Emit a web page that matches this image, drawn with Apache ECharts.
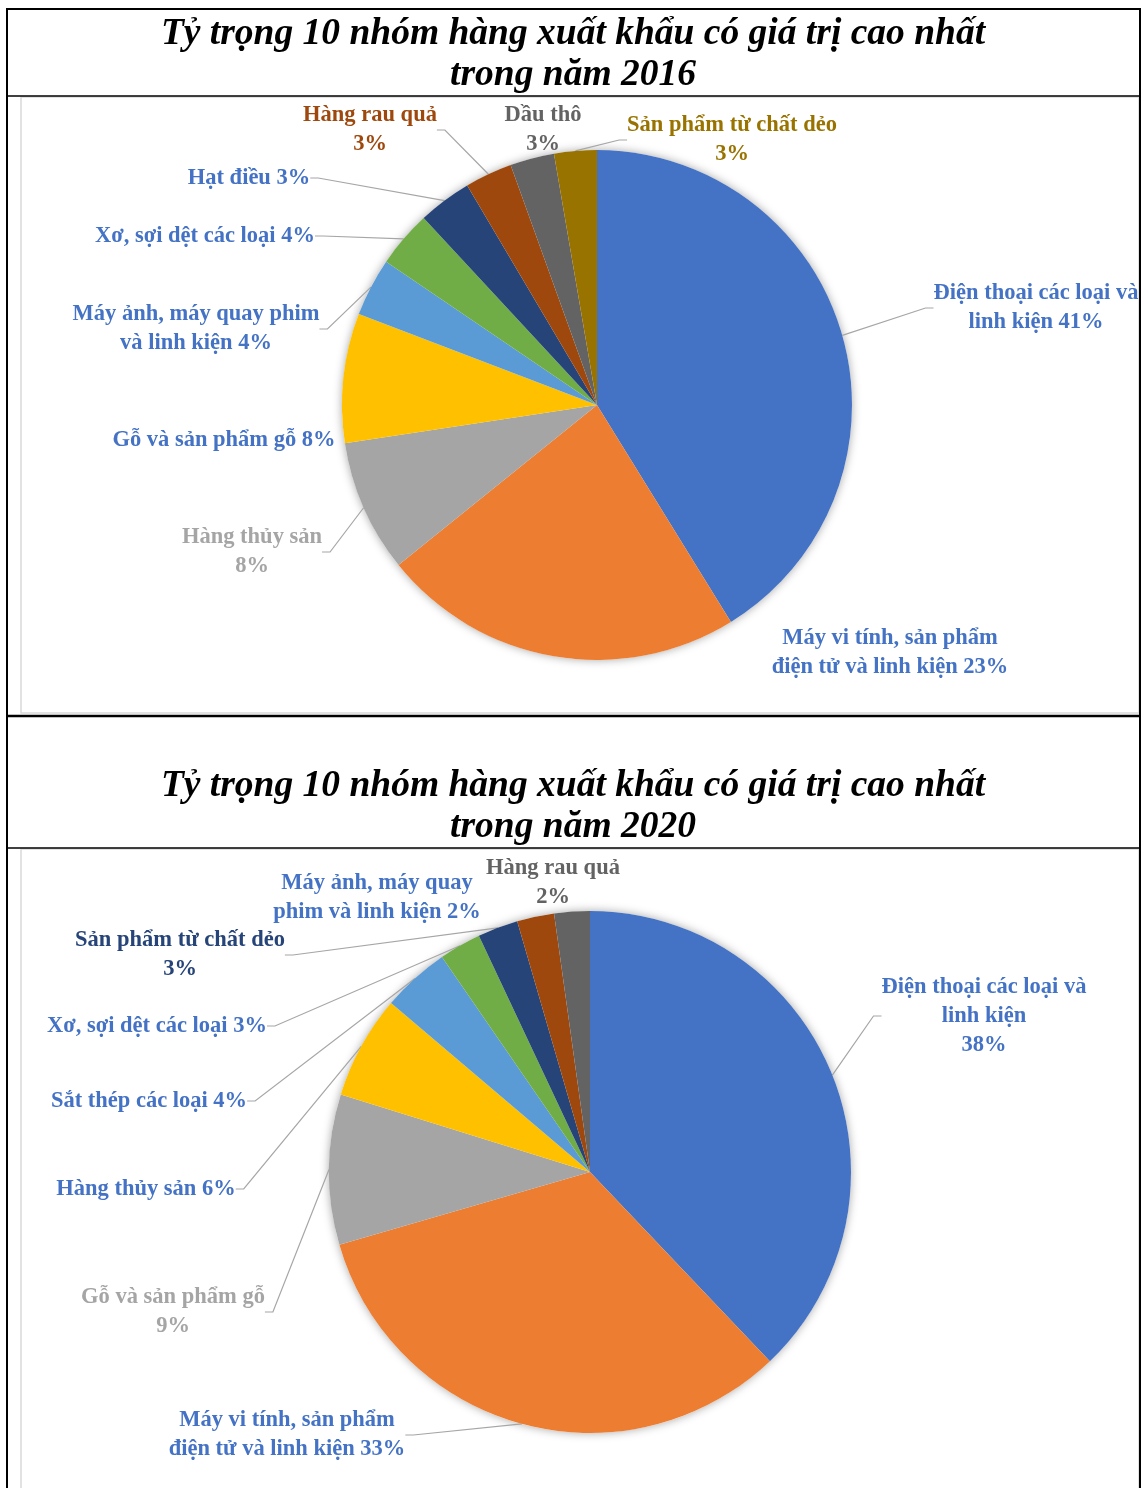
<!DOCTYPE html>
<html><head><meta charset="utf-8">
<script src="https://cdn.jsdelivr.net/npm/echarts@6/dist/echarts.min.js"></script>
<style>html,body{margin:0;padding:0;background:#fff}#c{width:1146px;height:1488px}</style>
</head><body><div id="c"></div>
<script>
// ---- data ----
const title2016 = 'Tỷ trọng 10 nhóm hàng xuất khẩu có giá trị cao nhất\ntrong năm 2016';
const title2020 = 'Tỷ trọng 10 nhóm hàng xuất khẩu có giá trị cao nhất\ntrong năm 2020';

const names2016 = ['Điện thoại các loại và linh kiện', 'Máy vi tính, sản phẩm điện tử và linh kiện', 'Hàng thủy sản',
  'Gỗ và sản phẩm gỗ', 'Máy ảnh, máy quay phim và linh kiện', 'Xơ, sợi dệt các loại', 'Hạt điều',
  'Hàng rau quả', 'Dầu thô', 'Sản phẩm từ chất dẻo'];
const values2016 = [41.2, 23.0, 8.4, 8.2, 3.7, 3.6, 3.4, 3.0, 2.8, 2.7];

const names2020 = ['Điện thoại các loại và linh kiện', 'Máy vi tính, sản phẩm điện tử và linh kiện', 'Gỗ và sản phẩm gỗ',
  'Hàng thủy sản', 'Sắt thép các loại', 'Xơ, sợi dệt các loại', 'Sản phẩm từ chất dẻo',
  'Máy ảnh, máy quay phim và linh kiện', 'Hàng rau quả'];
const values2020 = [37.9, 32.6, 9.3, 6.4, 4.2, 2.6, 2.5, 2.3, 2.2];

// ---- styling / layout ----
const sliceColors2016 = ['#4472C4', '#ED7D31', '#A5A5A5', '#FFC000', '#5B9BD5', '#70AD47', '#264478', '#9E480E', '#636363', '#997300'];
const labelColors2016 = ['#4472C4', '#4472C4', '#A5A5A5', '#4472C4', '#4472C4', '#4472C4', '#4472C4', '#9E480E', '#636363', '#997300'];
const breaks2016 = [[5], [5], [3], [], [5], [], [], [3], [2], [5]];
const showLine2016 = [true, false, true, false, true, true, true, true, false, true];
const labelPos2016 = [[1036, 308], [890, 653], [252, 552], [224, 440], [196, 329], [205, 236], [249, 178], [370, 130], [543, 130], [732, 140]];

const sliceColors2020 = ['#4472C4', '#ED7D31', '#A5A5A5', '#FFC000', '#5B9BD5', '#70AD47', '#264478', '#9E480E', '#636363'];
const labelColors2020 = ['#4472C4', '#4472C4', '#A5A5A5', '#4472C4', '#4472C4', '#4472C4', '#264478', '#4472C4', '#636363'];
const breaks2020 = [[5, 7], [5], [5], [], [], [], [5], [4], [3]];
const showLine2020 = [true, true, true, true, true, true, true, false, false];
const labelPos2020 = [[984, 1016], [287, 1435], [173, 1312], [146, 1189], [149, 1101], [157, 1026], [180, 955], [377, 898], [553, 883]];

const LABEL_FONT = 'Liberation Serif';
const TITLE_FONT = 'Liberation Serif';

function wrap(text, splits) {
  const words = text.split(' ');
  let out = '';
  words.forEach((w, i) => {
    if (i > 0) out += splits.indexOf(i) >= 0 ? '\n' : ' ';
    out += w;
  });
  return out;
}

function buildData(names, values, colors, labelColors, showLine) {
  return names.map((n, i) => ({
    name: n, value: values[i],
    itemStyle: { color: colors[i] },
    label: { color: labelColors[i] },
    labelLine: { show: showLine[i] }
  }));
}

function pieSeries(names, values, colors, labelColors, breaks, showLine, pos, center, radius) {
  return [{
    type: 'pie', silent: true, z: 1, center: center, radius: radius,
    data: [{ value: 1 }], label: { show: false }, labelLine: { show: false },
    itemStyle: { color: '#fff', shadowBlur: 10, shadowColor: 'rgba(0,0,0,0.35)' }
  }, {
    type: 'pie', z: 2, center: center, radius: radius, startAngle: 90, clockwise: true,
    data: buildData(names, values, colors, labelColors, showLine),
    itemStyle: { borderWidth: 0 },
    label: {
      show: true, position: 'outside', fontFamily: LABEL_FONT, fontWeight: 'bold', fontSize: 22.5, lineHeight: 29,
      formatter: p => wrap(p.name + ' ' + Math.round(p.percent) + '%', breaks[p.dataIndex])
    },
    labelLine: { length: 10, length2: 8, lineStyle: { color: '#A6A6A6', width: 1.2 } },
    labelLayout: p => ({ x: pos[p.dataIndex][0], y: pos[p.dataIndex][1], align: 'center', verticalAlign: 'middle' })
  }];
}

const chart = echarts.init(document.getElementById('c'), null, { renderer: 'canvas' });
const titleStyle = { fontFamily: TITLE_FONT, fontStyle: 'italic', fontWeight: 'bold', fontSize: 37.5, lineHeight: 41, color: '#000', align: 'center' };
const frameLine = (x1, y1, x2, y2, w, c) => ({ type: 'line', z: 100, shape: { x1, y1, x2, y2 }, style: { stroke: c, lineWidth: w } });

chart.setOption({
  animation: false,
  backgroundColor: '#fff',
  title: [
    { text: title2016, left: 573, top: 14, padding: 0, textAlign: 'center', textStyle: titleStyle },
    { text: title2020, left: 573, top: 766, padding: 0, textAlign: 'center', textStyle: titleStyle }
  ],
  graphic: [
    { type: 'rect', z: 99, shape: { x: 21, y: 97, width: 1118, height: 616 }, style: { fill: 'none', stroke: '#D9D9D9', lineWidth: 1.5 } },
    { type: 'rect', z: 99, shape: { x: 21, y: 849, width: 1118, height: 660 }, style: { fill: 'none', stroke: '#D9D9D9', lineWidth: 1.5 } },
    { type: 'rect', z: 99, shape: { x: 1141, y: 0, width: 10, height: 1488 }, style: { fill: '#fff' } },
    frameLine(6, 9, 1141, 9, 2, '#000'),
    frameLine(7, 8, 7, 1488, 2, '#000'),
    frameLine(1140, 8, 1140, 1488, 2, '#000'),
    frameLine(6, 96, 1141, 96, 1.5, '#000'),
    frameLine(6, 716, 1141, 716, 2.5, '#000'),
    frameLine(6, 848, 1141, 848, 1.5, '#000')
  ],
  series: [
    ...pieSeries(names2016, values2016, sliceColors2016, labelColors2016, breaks2016, showLine2016, labelPos2016, [597, 405], 255),
    ...pieSeries(names2020, values2020, sliceColors2020, labelColors2020, breaks2020, showLine2020, labelPos2020, [590, 1172], 261)
  ]
});
</script>
</body></html>
